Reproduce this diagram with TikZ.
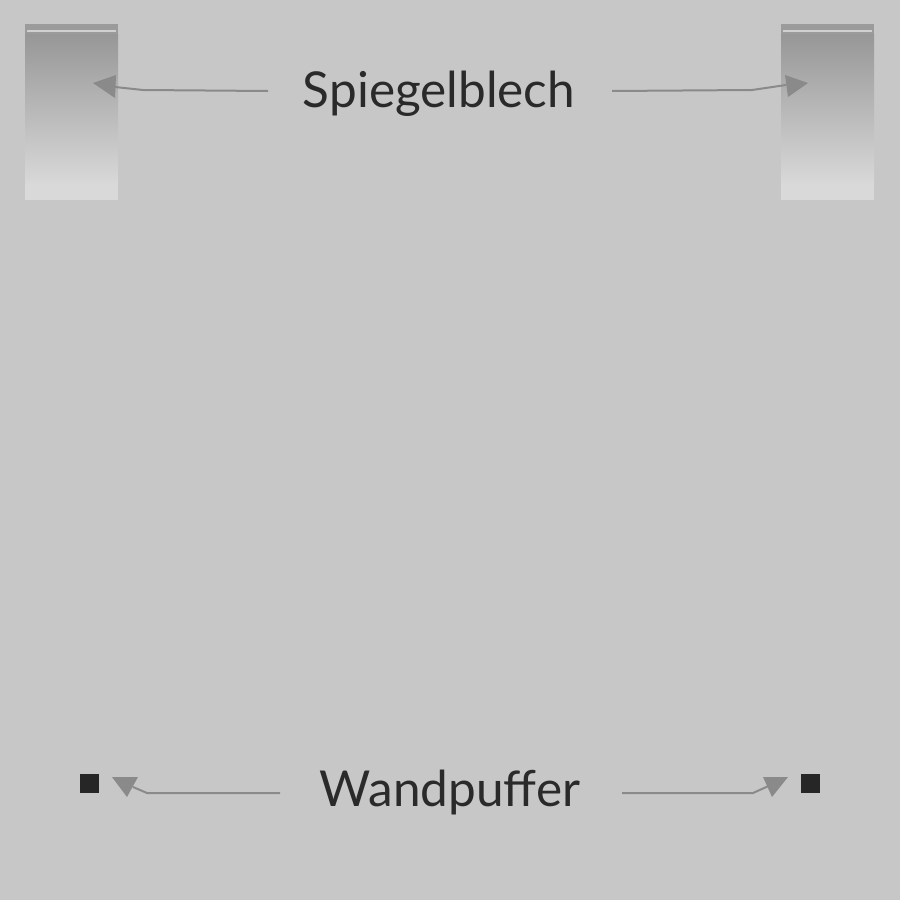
\documentclass[tikz,border=0pt]{standalone}
\usepackage{fontspec}
\setmainfont{Lato}
\definecolor{bg}{HTML}{C6C7C6}
\definecolor{plateTop}{HTML}{979797}
\definecolor{plateBot}{HTML}{D8D9D8}
\definecolor{band}{HTML}{9B9B9B}
\definecolor{bandlight}{HTML}{D0D0D0}
\definecolor{conncol}{HTML}{8A8A8A}
\definecolor{txt}{HTML}{2A2A2A}
\definecolor{buf}{HTML}{262626}
\tikzset{
  lbl/.style={text=txt, font=\fontsize{49.5}{60}\selectfont, inner sep=0pt},
  conn/.style={draw=conncol, line width=2pt},
  tip/.style={fill=conncol},
  buffer/.style={fill=buf, draw=none, minimum width=19pt, minimum height=19pt, inner sep=0pt}
}
\begin{document}
\begin{tikzpicture}[x=1pt,y=-1pt]
\fill[bg] (0,0) rectangle (900,900);
\useasboundingbox (0,0) rectangle (900,900);
% plates
\foreach \x in {25,781}{
  \shade[top color=plateTop, bottom color=plateBot] (\x,34) rectangle (\x+93,185);
  \fill[plateBot] (\x,185) rectangle (\x+93,200);
  \fill[band] (\x,24) rectangle (\x+93,34);
  \fill[bandlight] (\x+2,30) rectangle (\x+91,32);
}
% labels
\node[lbl, anchor=base] (sp) at (439,107) {Spiegelblech};
\node[lbl, anchor=base] (wp) at (450,806) {Wandpuffer};
% buffers
\node[buffer] (b1) at (89.5,783) {};
\node[buffer] (b2) at (810.5,783) {};
% connector coordinates
\coordinate (s1) at (268,91);
\coordinate (s1b) at (143,90);
\coordinate (s1e) at (115,87);
\coordinate (s2) at (612,91);
\coordinate (s2b) at (752,90);
\coordinate (s2e) at (786,85);
\coordinate (w1) at (280,793);
\coordinate (w1b) at (147,793);
\coordinate (w1e) at (133,787);
\coordinate (w2) at (622,793);
\coordinate (w2b) at (753,793);
\coordinate (w2e) at (773,784);
\draw[conn] (s1) -- (s1b) -- (s1e);
\draw[conn] (s2) -- (s2b) -- (s2e);
\draw[conn] (w1) -- (w1b) -- (w1e);
\draw[conn] (w2) -- (w2b) -- (w2e);
% arrow heads
\fill[tip] (93,83) -- (116,75) -- (115,98) -- cycle;
\fill[tip] (808,83) -- (785,75) -- (788,97) -- cycle;
\fill[tip] (127,797) -- (112,777) -- (138,777) -- cycle;
\fill[tip] (772,797) -- (763,777) -- (788,777) -- cycle;
\end{tikzpicture}
\end{document}
